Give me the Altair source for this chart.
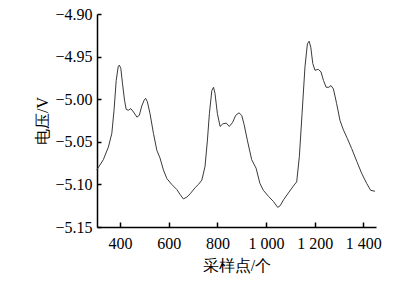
import altair as alt
import pandas as pd

# sample point index
xs = [304, 331, 352, 366, 375, 384, 392, 397, 403, 410, 418, 425, 434, 444, 455,
      469, 479, 489, 499, 505, 512, 523, 537, 551, 564, 578, 592, 612, 633, 647,
      660, 674, 688, 708, 722, 736, 749, 759, 767, 777, 784, 790, 800, 811, 822,
      836, 849, 863, 875, 889, 900, 910, 923, 941, 959, 975, 989, 1010, 1030, 1048,
      1058, 1072, 1092, 1112, 1126, 1137, 1148, 1160, 1170, 1177, 1184, 1192, 1201,
      1215, 1226, 1236, 1247, 1258, 1267, 1277, 1290, 1304, 1318, 1334, 1352, 1373,
      1393, 1414, 1430, 1448]
# voltage (V)
vs = [-5.083, -5.071, -5.056, -5.040, -5.013, -4.978, -4.962, -4.960, -4.964, -4.982,
      -5.001, -5.012, -5.013, -5.011, -5.015, -5.021, -5.019, -5.008, -5.001, -4.999,
      -5.003, -5.017, -5.040, -5.060, -5.069, -5.083, -5.093, -5.100, -5.106, -5.112,
      -5.117, -5.115, -5.111, -5.104, -5.100, -5.095, -5.079, -5.048, -5.017, -4.990,
      -4.986, -4.993, -5.017, -5.032, -5.029, -5.028, -5.032, -5.027, -5.019, -5.016,
      -5.019, -5.030, -5.048, -5.071, -5.081, -5.099, -5.107, -5.114, -5.120, -5.127,
      -5.125, -5.118, -5.110, -5.102, -5.097, -5.067, -5.017, -4.962, -4.935, -4.932,
      -4.939, -4.958, -4.966, -4.965, -4.968, -4.978, -4.986, -4.986, -4.984, -4.988,
      -5.005, -5.025, -5.036, -5.046, -5.058, -5.073, -5.087, -5.099, -5.107, -5.108]

x_ticks = [400, 600, 800, 1000, 1200, 1400]
y_ticks = [-4.90, -4.95, -5.00, -5.05, -5.10, -5.15]

df = pd.DataFrame({"x": xs, "v": vs})

FONT = "'Times New Roman', 'Liberation Serif', 'DejaVu Serif', serif"

chart = alt.Chart(df).mark_line(color="#3a3a3a", strokeWidth=1).encode(
    x=alt.X("x:Q",
            scale=alt.Scale(domain=[305, 1452], nice=False, zero=False),
            axis=alt.Axis(title="采样点/个", values=x_ticks,
                          labelExpr="replace(format(datum.value, ','), ',', ' ')",
                          tickSize=alt.ExprRef(expr="-5"),
                          labelPadding=13, titlePadding=6)),
    y=alt.Y("v:Q",
            scale=alt.Scale(domain=[-5.15, -4.90], nice=False, zero=False),
            axis=alt.Axis(title="电压/V", values=y_ticks, format=".2f",
                          tickSize=alt.ExprRef(expr="-4"),
                          labelPadding=9, titlePadding=4)),
).properties(
    width=279, height=213,
    autosize=alt.AutoSizeParams(type="none"),
    padding={"left": 89, "top": 6, "right": 30, "bottom": 52},
).configure_axis(
    grid=False,
    domainColor="black", domainWidth=1.5,
    tickColor="black", tickWidth=1.5,
    labelFont=FONT, labelFontSize=16, labelColor="black",
    titleFont=FONT, titleFontSize=16, titleFontWeight="normal", titleColor="black",
).configure_view(stroke=None)

chart.save("out.html", embed_options={"renderer": "svg", "actions": False})
